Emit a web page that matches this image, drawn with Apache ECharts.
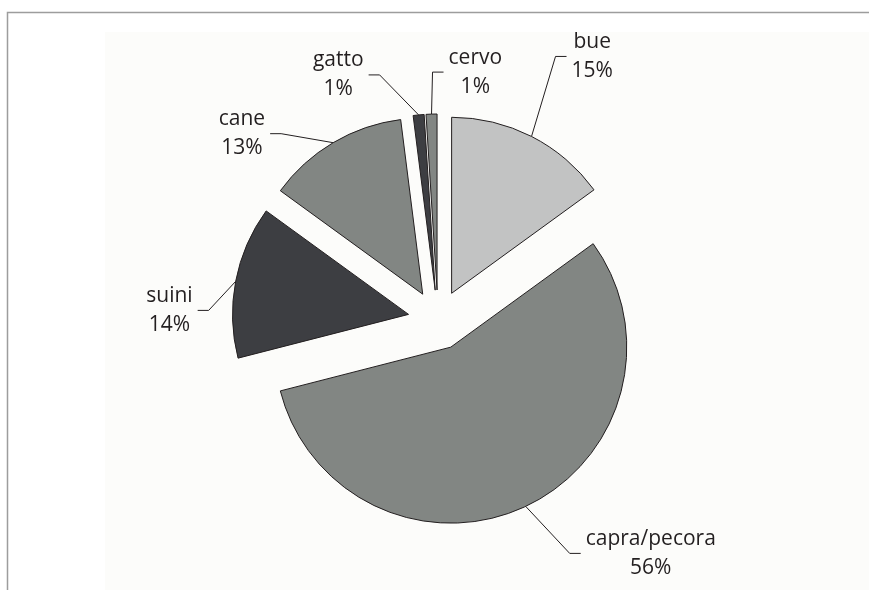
<!DOCTYPE html>
<html>
<head>
<meta charset="utf-8">
<script src="https://cdn.jsdelivr.net/npm/echarts@6/dist/echarts.min.js"></script>
<style>
html,body{margin:0;padding:0;background:#ffffff;}
#chart{width:869px;height:590px;}
</style>
</head>
<body>
<div id="chart"></div>
<script>
// ---- data ----
const categories = ['bue', 'capra/pecora', 'suini', 'cane', 'gatto', 'cervo'];
const values = [15, 56, 14, 13, 1, 1];

// ---- styles / layout ----
const sliceColors = ['#c2c3c3', '#828683', '#3d3e42', '#828683', '#3d3e42', '#828683'];
const pieCenter = [438, 320];
const pieRadius = 176;
const explode = 30;
// leader line: elbow offset from the (exploded) slice edge point, side of the horizontal stub
const leaders = [
  { dx: 24, dy: -80, side: 1 },
  { dx: 44, dy: 47, side: 1 },
  { dx: -27, dy: 29, side: -1 },
  { dx: -52, dy: -9, side: -1 },
  { dx: -39, dy: -40, side: -1 },
  { dx: 1, dy: -42, side: 1 }
];
const ink = '#231f20';

const chart = echarts.init(document.getElementById('chart'), null, { renderer: 'canvas' });

const sliceData = categories.map((name, i) => ({
  name: name,
  value: values[i],
  selected: true,
  itemStyle: { color: sliceColors[i] },
  select: { itemStyle: { color: sliceColors[i], borderColor: ink, borderWidth: 1 } }
}));
const labelData = categories.map((name, i) => ({ name: name, value: values[i] }));

chart.setOption({
  animation: false,
  backgroundColor: '#ffffff',
  graphic: [
    { type: 'rect', silent: true, z: -10,
      shape: { x: 105, y: 32, width: 800, height: 600 },
      style: { fill: '#fcfcfa', stroke: null } },
    { type: 'rect', silent: true, z: -9,
      shape: { x: 7.5, y: 12.5, width: 900, height: 600 },
      style: { fill: null, stroke: '#9d9d9d', lineWidth: 1.5 } }
  ],
  series: [{
    // exploded slices
    type: 'pie',
    center: pieCenter,
    radius: pieRadius,
    startAngle: 90,
    clockwise: true,
    selectedMode: 'multiple',
    selectedOffset: explode,
    emphasis: { disabled: true },
    itemStyle: { borderColor: ink, borderWidth: 1 },
    label: { show: false },
    labelLine: { show: false },
    data: sliceData
  }, {
    // labels with leader lines
    type: 'pie',
    silent: true,
    center: pieCenter,
    radius: pieRadius,
    startAngle: 90,
    clockwise: true,
    avoidLabelOverlap: false,
    emphasis: { disabled: true },
    itemStyle: { color: 'rgba(0,0,0,0)', borderWidth: 0 },
    label: {
      show: true,
      position: 'outside',
      formatter: '{b}\n{d}%',
      fontFamily: 'Open Sans',
      fontSize: 21,
      lineHeight: 29,
      color: ink
    },
    labelLine: {
      show: true,
      length: 20,
      length2: 10,
      smooth: false,
      lineStyle: { color: ink, width: 1 }
    },
    labelLayout: function (p) {
      const L = leaders[p.dataIndex];
      const e0 = p.labelLinePoints[0];
      const k = explode / pieRadius;
      const e = [e0[0] + (e0[0] - pieCenter[0]) * k, e0[1] + (e0[1] - pieCenter[1]) * k];
      const elbow = [e[0] + L.dx, e[1] + L.dy];
      const end = [elbow[0] + L.side * 11, elbow[1]];
      const w = p.labelRect.width;
      return {
        x: end[0] + L.side * (5 + w / 2),
        y: end[1],
        align: 'center',
        verticalAlign: 'middle',
        labelLinePoints: [e, elbow, end]
      };
    },
    data: labelData
  }]
});
</script>
</body>
</html>
